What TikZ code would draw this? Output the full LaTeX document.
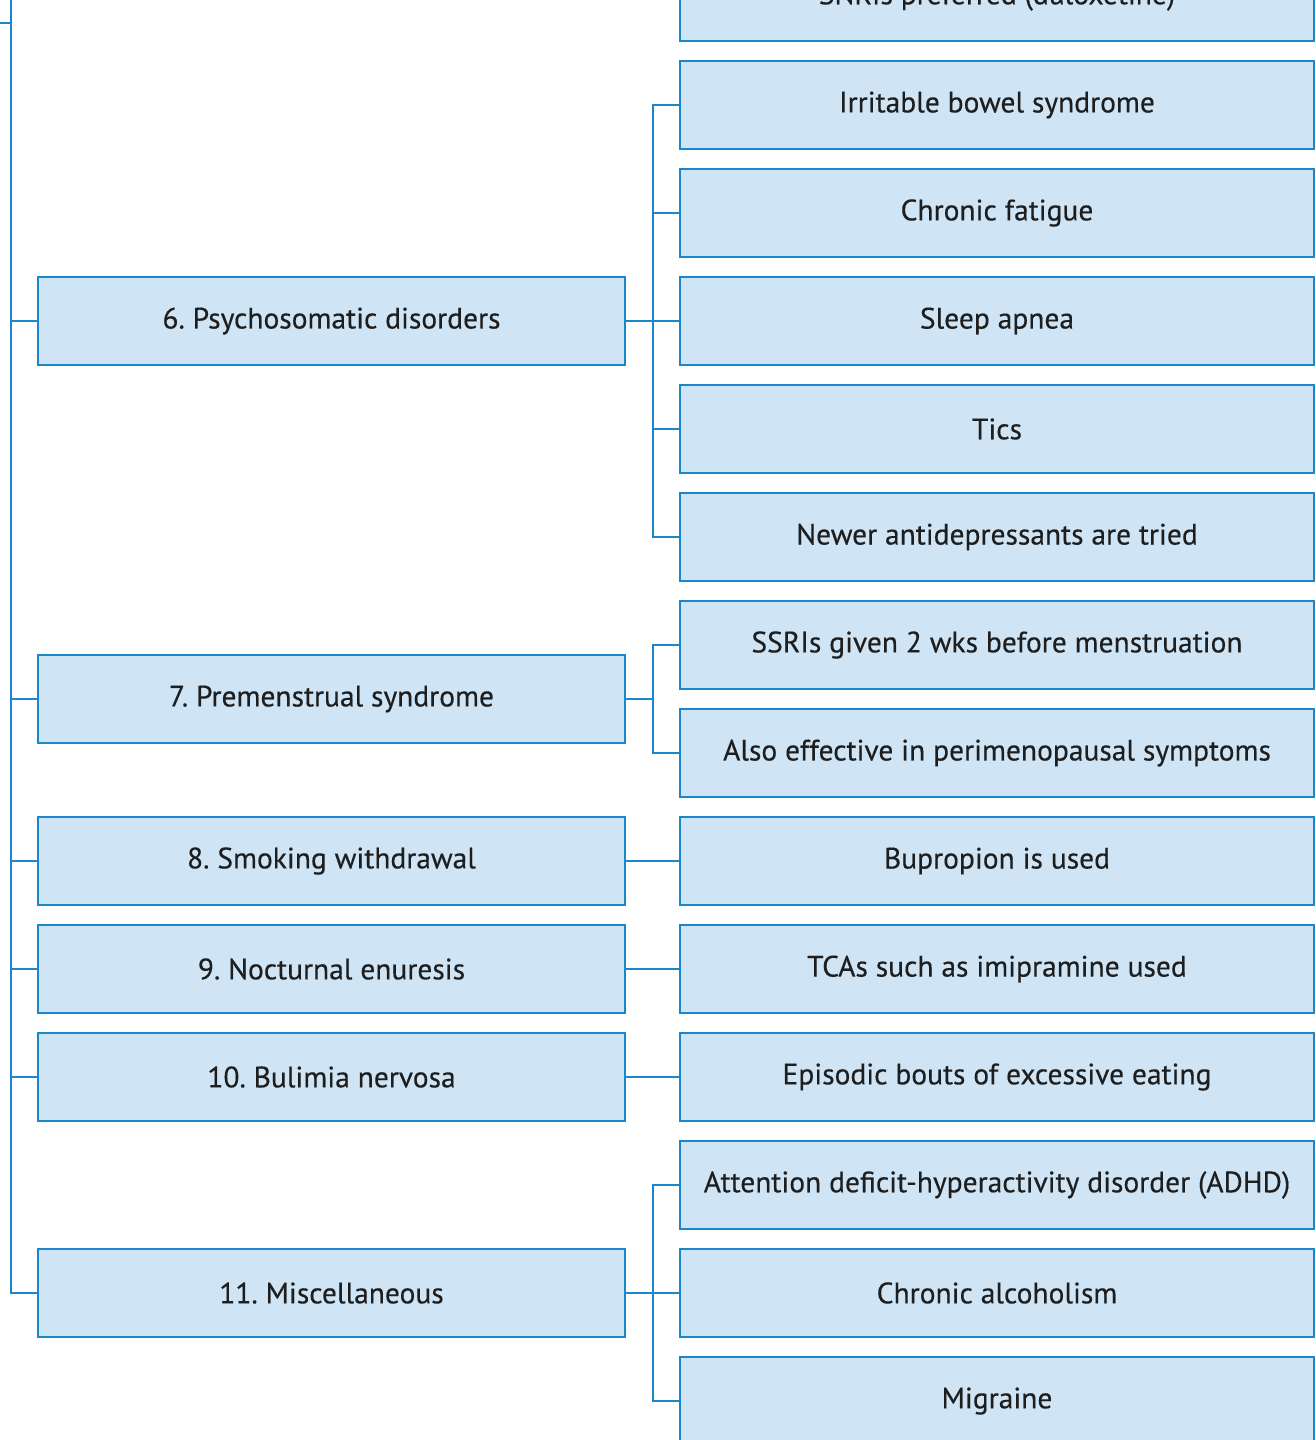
\documentclass[tikz,border=0pt]{standalone}
\usepackage{fontspec}
\setmainfont{PT Sans}
\newfontfamily\boxfont[FakeBold=0.35]{PT Sans}
\frenchspacing
\definecolor{lineblue}{HTML}{1A86CC}
\definecolor{boxfill}{HTML}{CFE5F5}
\definecolor{txt}{HTML}{1E1E1E}
\tikzset{
  box/.style={draw=lineblue, fill=boxfill, line width=2.2pt, minimum height=88pt,
    inner sep=0pt, font=\boxfont\fontsize{29.5}{34}\selectfont, text=txt},
  rbox/.style={box, minimum width=634pt},
  lbox/.style={box, minimum width=587pt},
  conn/.style={draw=lineblue, line width=1.9pt},
  trunk/.style={draw=lineblue, line width=2.6pt},
}
\begin{document}
\begin{tikzpicture}[x=1pt,y=-1pt]
\useasboundingbox (0,0) rectangle (1316,1440);
\clip (0,0) rectangle (1316,1440);
% right column
\node[rbox] (r0)  at (997,-3)   {SNRIs preferred (duloxetine)};
\node[rbox] (r1)  at (997,105)  {Irritable bowel syndrome};
\node[rbox] (r2)  at (997,213)  {Chronic fatigue};
\node[rbox] (r3)  at (997,321)  {Sleep apnea};
\node[rbox] (r4)  at (997,429)  {Tics};
\node[rbox] (r5)  at (997,537)  {Newer antidepressants are tried};
\node[rbox] (r6)  at (997,645)  {SSRIs given 2 wks before menstruation};
\node[rbox] (r7)  at (997,753)  {Also effective in perimenopausal symptoms};
\node[rbox] (r8)  at (997,861)  {Bupropion is used};
\node[rbox] (r9)  at (997,969)  {TCAs such as imipramine used};
\node[rbox] (r10) at (997,1077) {Episodic bouts of excessive eating};
\node[rbox] (r11) at (997,1185) {Attention deficit-hyperactivity disorder (ADHD)};
\node[rbox] (r12) at (997,1293) {Chronic alcoholism};
\node[rbox] (r13) at (997,1401) {Migraine};
% left column
\node[lbox] (l6)  at (331.5,321)  {6. Psychosomatic disorders};
\node[lbox] (l7)  at (331.5,699)  {7. Premenstrual syndrome};
\node[lbox] (l8)  at (331.5,861)  {8. Smoking withdrawal};
\node[lbox] (l9)  at (331.5,969)  {9. Nocturnal enuresis};
\node[lbox] (l10) at (331.5,1077) {10. Bulimia nervosa};
\node[lbox] (l11) at (331.5,1293) {11. Miscellaneous};
% branch points
\coordinate (b6)  at (653,321);
\coordinate (b7)  at (653,699);
\coordinate (b11) at (653,1293);
% group 6
\draw[trunk] (l6.east) -- (b6);
\foreach \c in {r1,r2,r3,r4,r5} \draw[conn] (b6) |- (\c.west);
% group 7
\draw[trunk] (l7.east) -- (b7);
\foreach \c in {r6,r7} \draw[conn] (b7) |- (\c.west);
% single links
\draw[conn] (l8.east) -- (r8.west);
\draw[conn] (l9.east) -- (r9.west);
\draw[conn] (l10.east) -- (r10.west);
% group 11
\draw[trunk] (l11.east) -- (b11);
\foreach \c in {r11,r12,r13} \draw[conn] (b11) |- (\c.west);
% main trunk
\coordinate (ttop) at (11,-20);
\coordinate (root) at (-5,23);
\coordinate (j0) at (11,23);
\draw[trunk] (root) -- (j0);
\draw[trunk] (ttop) |- (l10.west);
\foreach \c in {l6,l7,l8,l9} \draw[trunk] (ttop) |- (\c.west);
\draw[conn] (ttop) |- (l11.west);
\end{tikzpicture}
\end{document}
